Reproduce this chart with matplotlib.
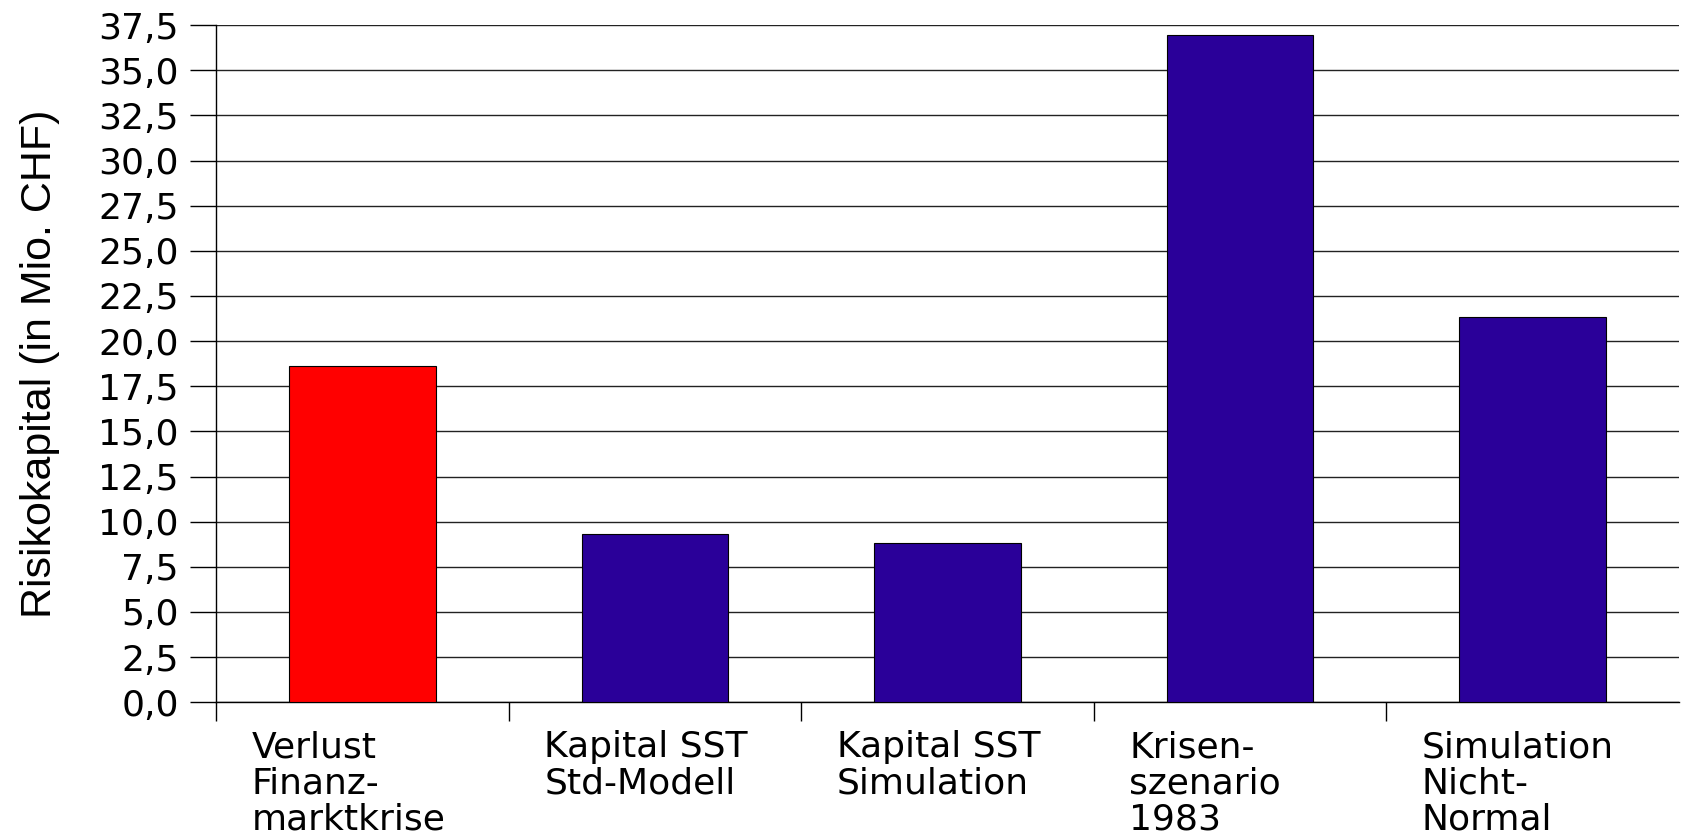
import matplotlib.pyplot as plt
import numpy as np

# Data
categories = ["Verlust\nFinanz-\nmarktkrise", "Kapital SST\nStd-Modell",
              "Kapital SST\nSimulation", "Krisen-\nszenario\n1983",
              "Simulation\nNicht-\nNormal"]
values = [18.6, 9.33, 8.8, 36.95, 21.35]
colors = ["#ff0000", "#2a0099", "#2a0099", "#2a0099", "#2a0099"]
yticks = np.arange(0, 37.6, 2.5)
ytick_labels = [f"{v:.1f}".replace(".", ",") for v in yticks]

fig = plt.figure(figsize=(16.83, 8.36), dpi=100)
ax = fig.add_axes([0.1285, 0.160, 0.869, 0.810])

x = np.arange(len(values))
ax.bar(x, values, width=0.5, color=colors, edgecolor="black", linewidth=0.8, zorder=3)

ax.set_xlim(-0.5, len(values) - 0.5)
ax.set_ylim(0, 37.5)

# y axis
ax.set_yticks(yticks)
ax.set_yticklabels(ytick_labels, fontsize=26, family="DejaVu Sans")
ax.tick_params(axis="y", length=19, width=1, pad=8)
ax.yaxis.grid(True, color="#222222", linewidth=1, zorder=0)
ax.set_ylabel("Risikokapital (in Mio. CHF)", fontsize=31, family="Liberation Sans")
ax.yaxis.set_label_coords(-0.107, 0.5)

# x axis: tick marks at category boundaries, labels left-aligned inside each category
ax.set_xticks(np.arange(-0.5, len(values) - 0.5, 1.0))
ax.set_xticklabels([])
ax.tick_params(axis="x", which="major", length=14, width=1)
ax.set_xticks(x - 0.378, minor=True)
ax.set_xticklabels(categories, minor=True, fontsize=26, family="DejaVu Sans",
                   ha="left", linespacing=1.08)
ax.tick_params(axis="x", which="minor", length=0, pad=20)

for side in ["top", "right"]:
    ax.spines[side].set_visible(False)
ax.spines["left"].set_linewidth(1)
ax.spines["bottom"].set_linewidth(1)

fig.savefig("out.png", dpi=100)
